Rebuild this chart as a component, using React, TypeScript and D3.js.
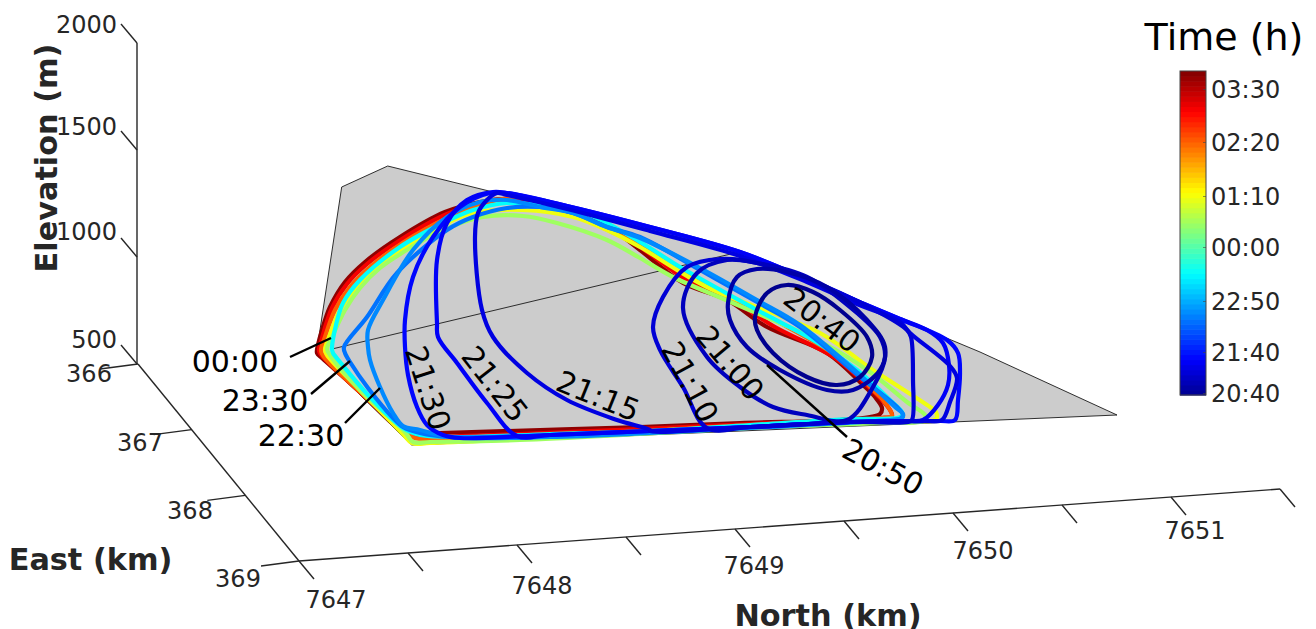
import React from "react";
import * as d3 from "d3";

// ---------- data ----------
const northTicks = [7647, 7647.5, 7648, 7648.5, 7649, 7649.5, 7650, 7650.5, 7651, 7651.5];
const northLabels = ["7647", "7648", "7649", "7650", "7651"];
const eastTicks = [366, 367, 368, 369];
const elevationTicks = [500, 1000, 1500, 2000];
const colorbarLabels = ["03:30", "02:20", "01:10", "00:00", "22:50", "21:40", "20:40"];
const timeMax = 435;

// plane-local coordinates (km along, km across) of each front on the sloping surface
const surface = [[3.18,3.43],[3.417,1.87],[3.877,1.66],[4.93,1.92],[7.4,2.52],[9.8,3.52],[11.17,4.15],[4.117,4.45],[3.167,3.53]];
const backEdge = [[3.32,3.49],[7.35,2.53]];

const topRidge = [[5.07,1.93],[5.67,2.06],[6.5,2.27],[7.4,2.52],[8.07,2.79],[8.57,3.01],[9.0,3.19]];
const lowerRidge = [[5.07,1.95],[5.67,2.09],[6.5,2.31],[7.4,2.56],[8.07,2.82],[8.57,3.04],[9.0,3.22]];
const bottomLine = [[9.0,4.21],[8.5,4.22],[7.5,4.27],[6.5,4.31],[5.5,4.35],[4.6,4.38]];

const front2040 = [[7.55,3.17],[7.67,2.93],[7.87,2.85],[8.13,2.92],[8.4,3.1],[8.67,3.37],[8.72,3.57],[8.6,3.77],[8.37,3.85],[8.07,3.77],[7.73,3.53],[7.57,3.3]];
const front2050 = [[7.28,3.03],[7.37,2.77],[7.57,2.69],[7.87,2.72],[8.27,2.87],[8.67,3.2],[8.85,3.47],[8.8,3.7],[8.53,3.9],[8.27,3.9],[7.8,3.7],[7.47,3.47],[7.3,3.2]];
const front2100 = [[6.83,3.08],[6.97,2.73],[7.27,2.6],[7.57,2.63],[8.07,2.77],[8.57,3.13],[8.8,3.37],[8.85,3.57],[8.73,3.87],[8.47,4.2],[8.07,4.15],[7.73,4.07],[7.4,3.87],[7.07,3.57]];
const front2110 = [[6.53,3.27],[6.63,2.97],[6.87,2.67],[7.2,2.59],[7.57,2.63],[8.4,2.93],[9.07,3.3],[9.11,3.37],[9.13,3.8],[9.12,4.2],[9.08,4.22],[8.5,4.22],[7.5,4.27],[7.07,4.28],[6.83,3.87],[6.6,3.5]];
const front2115 = [[4.82,3.1],[4.75,2.37],[4.78,2.13],[4.87,2.0],[4.97,1.93],...lowerRidge,[9.1,3.33],[9.5,3.66],[9.57,3.78],[9.5,4.02],[9.42,4.2],[9.3,4.21],...bottomLine.slice(0,4),[6.5,4.3],[6.17,4.2],[5.67,4.0],[5.27,3.73],[4.93,3.37]];
const front2125 = [[4.37,3.23],[4.37,2.6],[4.47,2.23],[4.67,2.0],[4.93,1.92],...topRidge,[9.27,3.3],[9.43,3.43],[9.49,3.65],[9.48,3.85],[9.38,4.05],[9.23,4.2],[9.1,4.21],...bottomLine.slice(0,5),[5.17,4.36],[4.87,4.03],[4.57,3.63],[4.38,3.37]];
const front2130 = [[4.05,3.47],[4.05,3.2],[4.13,2.77],[4.33,2.37],[4.6,2.07],[4.9,1.93],...topRidge,[9.47,3.4],[9.58,3.53],[9.6,3.73],[9.58,4.0],[9.55,4.2],[9.4,4.21],...bottomLine,[4.43,4.35],[4.27,4.25],[4.17,4.07],[4.08,3.75]];
const front2230 = [[3.68,3.47],[3.68,3.3],[3.83,3.0],[4.13,2.5],[4.47,2.17],[4.8,2.02],[5.07,2.0],[5.4,2.07],[5.73,2.13],[6.07,2.27],[6.4,2.38],[7.0,2.68],[7.57,3.0],[8.0,3.25],[8.6,3.75],[8.95,4.07],[9.03,4.14],[9.02,4.18],[8.9,4.2],[7.5,4.28],[6.5,4.33],[5.5,4.37],[4.5,4.37],[4.2,4.3],[4.03,4.26],[3.93,4.13],[3.8,3.87],[3.7,3.6]];
const front2240 = [[3.44,3.47],[3.67,3.17],[3.97,2.73],[4.47,2.3],[4.73,2.17],[5.07,2.08],[5.4,2.07],[5.73,2.13],[6.07,2.27],[6.4,2.37],[7.0,2.7],[7.57,3.02],[8.0,3.27],[8.6,3.77],[8.97,4.07],[9.03,4.15],[9.0,4.19],[8.9,4.2],[7.5,4.27],[6.5,4.32],[5.5,4.35],[4.5,4.37],[4.2,4.33],[4.03,4.27],[3.93,4.18],[3.68,3.88],[3.5,3.62],[3.45,3.53]];
const front2330 = [[3.32,3.49],[3.36,3.25],[3.43,3.03],[3.6,2.8],[4.0,2.47],[4.43,2.23],[4.73,2.1],[5.07,2.03],[5.4,2.05],[5.83,2.12],[6.4,2.42],[6.8,2.67],[7.57,3.1],[8.13,3.4],[8.57,3.7],[8.9,4.0],[9.02,4.12],[9.02,4.16],[8.97,4.18],[8.5,4.19],[7.5,4.25],[6.5,4.31],[5.5,4.34],[4.6,4.37],[4.2,4.35],[4.03,4.28],[3.68,3.95],[3.4,3.62],[3.33,3.53]];
const front0020 = [[3.27,3.49],[3.33,3.35],[3.45,3.1],[3.6,2.88],[3.8,2.68],[4.1,2.48],[4.43,2.3],[4.83,2.17],[5.23,2.16],[5.57,2.23],[6.07,2.4],[6.4,2.58],[6.73,2.77],[7.33,3.03],[8.23,3.43],[8.7,3.72],[9.07,4.02],[9.25,4.15],[9.25,4.2],[8.8,4.23],[7.5,4.28],[6.4,4.34],[5.2,4.4],[4.3,4.42],[4.13,4.42],[4.05,4.32],[3.6,3.9],[3.3,3.55]];
const front0045 = [[3.25,3.5],[3.29,3.37],[3.39,3.12],[3.54,2.9],[3.74,2.7],[4.07,2.46],[4.47,2.23],[4.73,2.13],[5.23,2.1],[5.73,2.17],[6.07,2.3],[6.4,2.47],[7.07,2.87],[8.2,3.33],[8.7,3.68],[9.3,4.07],[9.36,4.12],[9.36,4.19],[8.8,4.22],[7.5,4.27],[6.4,4.33],[5.2,4.39],[4.3,4.43],[4.12,4.43],[4.02,4.33],[3.6,3.9],[3.27,3.55]];
const front0220 = [[3.21,3.51],[3.25,3.37],[3.35,3.1],[3.5,2.87],[3.7,2.67],[4.04,2.42],[4.49,2.17],[4.73,2.07],[4.97,2.0],[5.27,1.98],[5.6,2.08],[6.12,2.32],[6.4,2.45],[6.95,2.8],[7.4,3.03],[7.8,3.23],[8.47,3.63],[8.73,3.9],[8.83,4.0],[8.92,4.15],[8.9,4.17],[8.7,4.19],[7.5,4.25],[6.4,4.31],[5.2,4.36],[4.3,4.39],[4.15,4.38],[4.04,4.31],[3.6,3.92],[3.24,3.57]];
const front0300 = [[3.19,3.51],[3.22,3.38],[3.32,3.08],[3.47,2.84],[3.67,2.64],[4.02,2.39],[4.47,2.14],[4.82,2.03],[5.1,1.99],[5.6,2.09],[6.15,2.32],[6.4,2.47],[6.9,2.82],[7.35,3.02],[7.75,3.27],[8.35,3.58],[8.7,3.88],[8.9,4.1],[8.92,4.16],[8.8,4.18],[8.4,4.2],[7.5,4.24],[6.4,4.29],[5.2,4.34],[4.3,4.37],[4.17,4.37],[4.04,4.31],[3.6,3.92],[3.22,3.56]];
const front0335 = [[3.17,3.53],[3.18,3.45],[3.22,3.3],[3.3,3.07],[3.45,2.82],[3.65,2.62],[4.0,2.37],[4.45,2.12],[4.8,2.02],[5.1,1.99],[5.6,2.09],[6.0,2.24],[6.2,2.35],[6.4,2.5],[6.83,2.83],[7.27,3.0],[7.67,3.27],[8.27,3.53],[8.63,3.85],[8.75,3.97],[8.82,4.08],[8.8,4.14],[8.7,4.17],[8.4,4.2],[7.4,4.23],[6.4,4.27],[5.4,4.3],[4.4,4.33],[4.23,4.33],[4.05,4.34],[3.95,4.26],[3.6,3.92],[3.22,3.58]];

const fronts = [
  { values: front0335, minutes: 428 },
  { values: front0300, minutes: 385 },
  { values: front0220, minutes: 340 },
  { values: front0045, minutes: 265 },
  { values: front0020, minutes: 231 },
  { values: front2330, minutes: 165 },
  { values: front2240, minutes: 100 },
  { values: front2230, minutes: 110 },
  { values: front2130, minutes: 50 },
  { values: front2125, minutes: 45 },
  { values: front2115, minutes: 35 },
  { values: front2110, minutes: 30 },
  { values: front2100, minutes: 20 },
  { values: front2050, minutes: 10 },
  { values: front2040, minutes: 0 },
];

const frontLabels = [
  { text: "20:40", at: [8.22, 3.2], angle: 37 },
  { text: "21:00", at: [7.3, 3.63], angle: 50 },
  { text: "21:10", at: [6.9, 3.82], angle: 62 },
  { text: "21:15", at: [5.98, 3.96], angle: 22 },
  { text: "21:25", at: [4.95, 3.84], angle: 52 },
  { text: "21:30", at: [4.28, 3.88], angle: 72 },
  { text: "20:50", at: [8.83, 4.67], angle: 28 },
  { text: "00:00", at: [2.35, 3.61], angle: 0 },
  { text: "23:30", at: [2.65, 4.0], angle: 0 },
  { text: "22:30", at: [3.01, 4.35], angle: 0 },
];
const leaders = [
  [[2.9, 3.57], [3.31, 3.38]],
  [[3.11, 3.94], [3.5, 3.61]],
  [[3.45, 4.23], [3.8, 3.88]],
  [[8.47, 4.37], [7.67, 3.65]],
];

// ---------- layout ----------
const W = 1316, H = 629;
const ink = "#262626";
const planeX = d3.scaleLinear().domain([0, 13.16]).range([0, W]);
const planeY = d3.scaleLinear().domain([0, 6.29]).range([0, H]);

const northX = d3.scaleLinear().domain([7647, 7651.5]).range([299, 1280]);
const northY = d3.scaleLinear().domain([7647, 7651.5]).range([561, 489]);
const eastX = d3.scaleLinear().domain([366, 369]).range([138, 299]);
const eastY = d3.scaleLinear().domain([366, 369]).range([364, 561]);
const elevY = d3.scaleLinear().domain([500, 2000]).range([364, 43]);

const barY = d3.scaleLinear().domain([0, timeMax]).range([395, 71]);
const jet = d3
  .scaleLinear<string>()
  .domain([0, 0.11, 0.375, 0.625, 0.875, 1].map((f) => f * timeMax))
  .range(["#00008f", "#0000ff", "#00ffff", "#ffff00", "#ff0000", "#800000"])
  .interpolate(d3.interpolateRgb);

const closedCurve = d3
  .line<number[]>()
  .x((d) => planeX(d[0]))
  .y((d) => planeY(d[1]))
  .curve(d3.curveCatmullRomClosed.alpha(0.5));
const straight = d3
  .line<number[]>()
  .x((d) => planeX(d[0]))
  .y((d) => planeY(d[1]));

const northLabelPos: Record<string, [number, number]> = {
  "7647": [336, 608],
  "7648": [542, 594],
  "7649": [754, 574],
  "7650": [983, 559],
  "7651": [1195, 539],
};
const eastLabelPos = [[89, 382], [140, 451], [190, 519], [238, 587]];
const elevLabelY = [348, 240, 135, 33];
const colorbarLabelY = [98, 151, 205, 256, 310, 361, 402];
const levels = d3.range(64);

export default function App() {
  const font = "'DejaVu Sans', sans-serif";
  return (
    <svg
      width={W}
      height={H}
      viewBox={`0 0 ${W} ${H}`}
      style={{ position: "absolute", left: 0, top: 0, background: "#fff", fontFamily: font }}
    >
      {/* surface */}
      <path d={straight(surface) + "Z"} fill="#cccccc" stroke="#1a1a1a" strokeWidth={0.9} />
      <path d={straight(backEdge)!} fill="none" stroke="#1a1a1a" strokeWidth={0.9} />

      {/* fronts */}
      {fronts.map((f, i) => (
        <path
          key={i}
          d={closedCurve(f.values)!}
          fill="none"
          stroke={jet(f.minutes)}
          strokeWidth={4.2}
          strokeLinejoin="round"
        />
      ))}

      {/* axes */}
      <g stroke={ink} strokeWidth={1.4} fill="none">
        <line x1={northX(7647)} y1={northY(7647)} x2={northX(7651.5)} y2={northY(7651.5)} />
        <line x1={eastX(366)} y1={eastY(366)} x2={eastX(369)} y2={eastY(369)} />
        <line x1={137} y1={elevY(500)} x2={137} y2={elevY(2000)} />
        {northTicks.map((t) => (
          <line key={t} x1={northX(t)} y1={northY(t)} x2={northX(t) + 15} y2={northY(t) + 18} />
        ))}
        {eastTicks.map((t) => (
          <line key={t} x1={eastX(t)} y1={eastY(t)} x2={eastX(t) - 38} y2={eastY(t) + 5} />
        ))}
        {elevationTicks.map((t) => (
          <line key={t} x1={137} y1={elevY(t)} x2={121} y2={elevY(t) - 19} />
        ))}
      </g>

      <g fill={ink} fontSize={24}>
        {northLabels.map((t) => (
          <text key={t} x={northLabelPos[t][0]} y={northLabelPos[t][1]} textAnchor="middle">
            {t}
          </text>
        ))}
        {eastTicks.map((t, i) => (
          <text key={t} x={eastLabelPos[i][0]} y={eastLabelPos[i][1]} textAnchor="middle">
            {t}
          </text>
        ))}
        {elevationTicks.map((t, i) => (
          <text key={t} x={117} y={elevLabelY[i]} textAnchor="end">
            {t}
          </text>
        ))}
      </g>

      <g fill={ink} fontSize={30.3} fontWeight="bold">
        <text transform="translate(57,158) rotate(-90)" textAnchor="middle">
          Elevation (m)
        </text>
        <text x={90.5} y={570} textAnchor="middle">
          East (km)
        </text>
        <text x={828} y={626} textAnchor="middle">
          North (km)
        </text>
      </g>

      {/* leaders and front labels */}
      {leaders.map((l, i) => (
        <path key={i} d={straight(l)!} stroke="#000" strokeWidth={2.4} fill="none" />
      ))}
      <g fill="#000" fontSize={30}>
        {frontLabels.map((l) => (
          <text
            key={l.text}
            transform={`translate(${planeX(l.at[0])},${planeY(l.at[1])}) rotate(${l.angle})`}
            textAnchor="middle"
            dominantBaseline="central"
          >
            {l.text}
          </text>
        ))}
      </g>

      {/* colour bar */}
      <text x={1224} y={50} textAnchor="middle" fontSize={38} fill="#000">
        Time (h)
      </text>
      {levels.map((i) => {
        const a = (i / 64) * timeMax;
        const b = ((i + 1) / 64) * timeMax;
        return (
          <rect
            key={i}
            x={1180}
            y={barY(b)}
            width={26}
            height={barY(a) - barY(b) + 0.6}
            fill={jet((a + b) / 2)}
          />
        );
      })}
      <rect x={1180} y={71} width={26} height={324} fill="none" stroke="#444" strokeWidth={1} />
      {colorbarLabels.map((label, i) => (
        <g key={label}>
          <line
            x1={1203}
            x2={1206}
            y1={colorbarLabelY[i] - 8.5}
            y2={colorbarLabelY[i] - 8.5}
            stroke="#444"
            strokeOpacity={0.6}
          />
          <text x={1211} y={colorbarLabelY[i]} fontSize={24} fill={ink}>
            {label}
          </text>
        </g>
      ))}
    </svg>
  );
}
